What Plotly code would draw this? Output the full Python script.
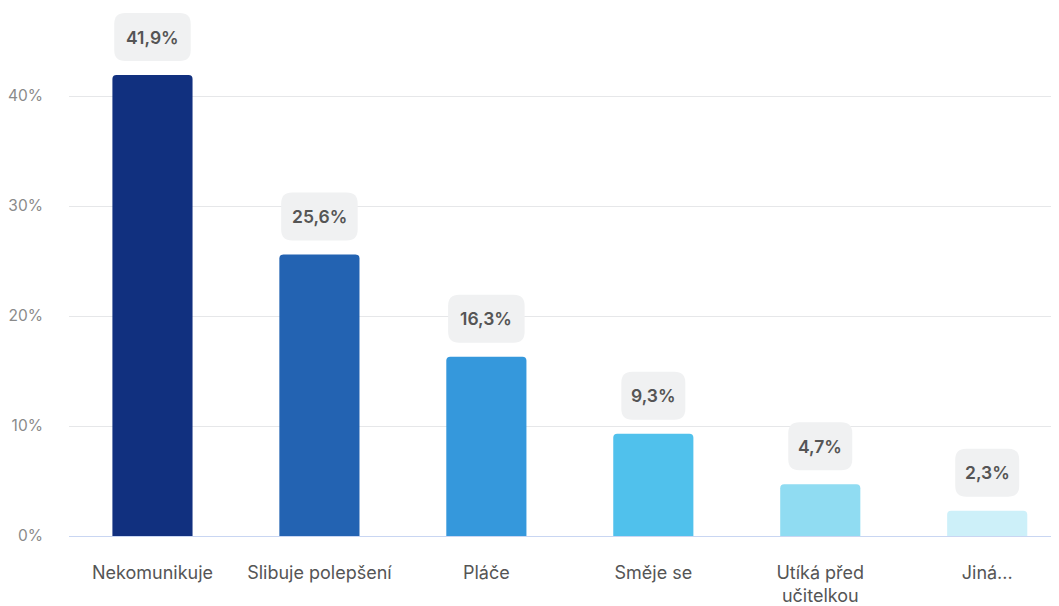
import plotly.graph_objects as go

# data
categories = ["Nekomunikuje", "Slibuje polepšení", "Pláče", "Směje se", "Utíká před<br>učitelkou", "Jiná..."]
shares = [41.9, 25.6, 16.3, 9.3, 4.7, 2.3]
bar_colors = ["#11307f", "#2363b2", "#3598dc", "#50c1ec", "#90dcf2", "#cdf0f9"]
y_ticks = [0, 10, 20, 30, 40]
y_tick_text = ["0%", "10%", "20%", "30%", "40%"]


def fmt(v):
    return f"{v:.1f}".replace(".", ",") + "%"


def rounded_box(w, h, r, y0):
    # path in pixels, centred horizontally on anchor, y measured upwards from anchor
    x0, x1 = -w / 2, w / 2
    y1 = y0 + h
    return (f"M{x0+r},{y0} L{x1-r},{y0} Q{x1},{y0} {x1},{y0+r} L{x1},{y1-r} "
            f"Q{x1},{y1} {x1-r},{y1} L{x0+r},{y1} Q{x0},{y1} {x0},{y1-r} "
            f"L{x0},{y0+r} Q{x0},{y0} {x0+r},{y0} Z")


labels = [fmt(v) for v in shares]
xs = list(range(len(categories)))

fig = go.Figure()
fig.add_trace(go.Bar(
    x=xs, y=shares,
    marker=dict(color=bar_colors, cornerradius=4, line=dict(width=0)),
    hoverinfo="skip",
))

shapes = []
annotations = []
for i, (v, t) in enumerate(zip(shares, labels)):
    w = 12.5 * len(t) + 14
    shapes.append(dict(
        type="path", xref="x", yref="y",
        xsizemode="pixel", ysizemode="pixel", xanchor=i, yanchor=v,
        path=rounded_box(w, 48, 11, 14),
        fillcolor="#f0f1f2", line=dict(width=0), layer="above",
    ))
    annotations.append(dict(
        x=i, y=v, xref="x", yref="y", text=t, showarrow=False,
        yshift=38, font=dict(family="Inter", size=17.5, color="#555555", weight=600),
    ))

# page body has an 8px margin, so the figure is 8px smaller than the window
fig.update_layout(
    width=1051, height=598,
    margin=dict(l=61, r=0, t=0, b=70),
    paper_bgcolor="white", plot_bgcolor="white",
    showlegend=False,
    bargap=0.52,
    font=dict(family="Inter"),
    shapes=shapes,
    annotations=annotations,
    xaxis=dict(
        range=[-0.5, 5.43],
        tickmode="array", tickvals=xs, ticktext=categories,
        ticks="outside", ticklen=20, tickcolor="rgba(0,0,0,0)",
        tickfont=dict(family="Inter", size=18, color="#555555"),
        showgrid=False, showline=False, zeroline=False,
    ),
    yaxis=dict(
        range=[0, 48.0],
        tickmode="array", tickvals=y_ticks, ticktext=y_tick_text,
        ticks="outside", ticklen=22, tickcolor="rgba(0,0,0,0)",
        tickfont=dict(family="Inter", size=15.5, color="#8a8a8a"),
        showgrid=True, gridcolor="#e6e7e9", gridwidth=1,
        zeroline=True, zerolinecolor="#c9d6f2", zerolinewidth=1,
        showline=False,
    ),
)

fig.write_html("out.html")
